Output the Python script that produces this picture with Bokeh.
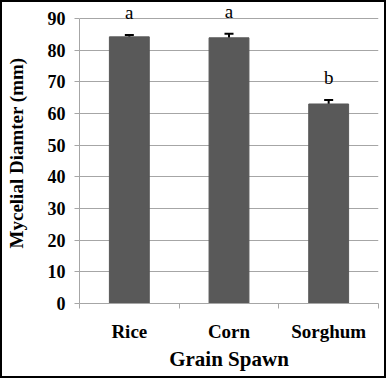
from bokeh.plotting import figure
from bokeh.models import (Range1d, FixedTicker, ColumnDataSource, Whisker, TeeHead,
                          LabelSet)
from bokeh.embed import file_html
from bokeh.resources import INLINE

categories = ["Rice", "Corn", "Sorghum"]
means = [84.2, 83.9, 63.0]
errors = [0.6, 1.3, 1.3]
letters = ["a", "a", "b"]
y_ticks = [0, 10, 20, 30, 40, 50, 60, 70, 80, 90]

xs = [i + 0.5 for i in range(len(categories))]
uppers = [m + e for m, e in zip(means, errors)]
lowers = [m - e for m, e in zip(means, errors)]
src = ColumnDataSource(dict(x=xs, top=means, upper=uppers, lower=lowers,
                            letter=letters))

FONT = "Liberation Serif"
GRID = "#a6a6a6"

# frame extends a little above 90 so the letters are not clipped;
# the axis line itself is bounded to 0..90
p = figure(width=386, height=378, x_range=Range1d(0, len(categories)),
           y_range=Range1d(0, 95.05), output_backend="svg", toolbar_location=None,
           min_border_left=71, min_border_right=10, min_border_top=0,
           min_border_bottom=77)
p.outline_line_color = None
p.styles = {"border": "2px solid #000000", "box-sizing": "border-box"}

p.vbar(x="x", top="top", width=0.4, bottom=0, source=src,
       fill_color="#595959", line_color="#595959")

w = Whisker(base="x", upper="upper", lower="lower", source=src,
            line_color="black", line_width=2,
            upper_head=TeeHead(size=9, line_width=2, line_color="black"),
            lower_head=TeeHead(size=9, line_width=2, line_color="black"))
p.add_layout(w)

labels = LabelSet(x="x", y="upper", text="letter", source=src, y_offset=16,
                  text_align="center", text_baseline="alphabetic",
                  text_font=FONT, text_font_size="19px", text_color="black")
p.add_layout(labels)

# x axis
xa = p.xaxis[0]
xa.ticker = FixedTicker(ticks=xs, minor_ticks=list(range(len(categories) + 1)))
xa.major_label_overrides = {x: c for x, c in zip(xs, categories)}
xa.major_tick_out = 0
xa.major_tick_in = 0
xa.minor_tick_out = 5
xa.minor_tick_in = 0
xa.minor_tick_line_color = GRID
xa.axis_line_color = GRID
xa.major_label_text_font = FONT
xa.major_label_text_font_style = "bold"
xa.major_label_text_font_size = "19px"
xa.major_label_text_color = "black"
xa.major_label_standoff = 12
xa.axis_label = "Grain Spawn"
xa.axis_label_text_font = FONT
xa.axis_label_text_font_style = "bold"
xa.axis_label_text_font_size = "21px"
xa.axis_label_text_color = "black"
xa.axis_label_standoff = 2

# y axis
ya = p.yaxis[0]
ya.ticker = FixedTicker(ticks=y_ticks)
ya.bounds = (0, 90)
ya.major_tick_out = 5
ya.major_tick_in = 0
ya.minor_tick_line_color = None
ya.major_tick_line_color = GRID
ya.axis_line_color = GRID
ya.major_label_text_font = FONT
ya.major_label_text_font_style = "bold"
ya.major_label_text_font_size = "18px"
ya.major_label_text_color = "black"
ya.major_label_standoff = 9
ya.axis_label = "Mycelial Diamter (mm)"
ya.axis_label_text_font = FONT
ya.axis_label_text_font_style = "bold"
ya.axis_label_text_font_size = "19px"
ya.axis_label_text_color = "black"
ya.axis_label_standoff = 18

p.xgrid.visible = False
p.ygrid.ticker = FixedTicker(ticks=y_ticks)
p.ygrid.grid_line_color = GRID

open("out.html", "w").write(file_html(p, INLINE))
